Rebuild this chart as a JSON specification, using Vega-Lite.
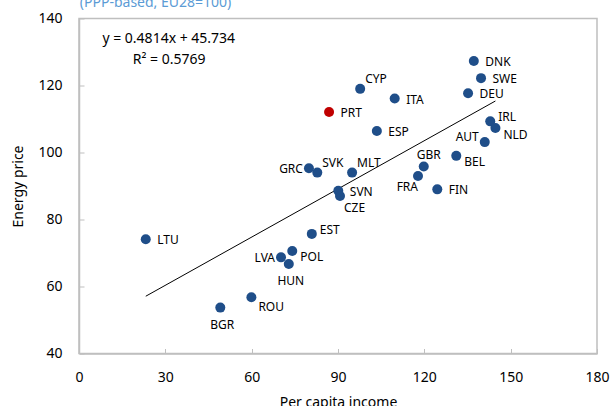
{
  "$schema": "https://vega.github.io/schema/vega-lite/v6.json",
  "autosize": {"type": "none"},
  "padding": {"left": 79, "top": 18.5, "right": 15.5, "bottom": 52.5},
  "width": 518,
  "height": 335,
  "background": "white",
  "config": {
    "font": "Noto Sans",
    "view": {"stroke": "#bfbfbf", "strokeWidth": 1.5},
    "axis": {
      "domainColor": "#bfbfbf", "domainWidth": 1.5,
      "tickColor": "#bfbfbf", "tickWidth": 1, "tickSize": -5,
      "grid": false, "labelFlush": false, "labelOverlap": false,
      "labelFont": "Noto Sans", "labelFontSize": 14, "labelColor": "#000000",
      "titleFont": "Noto Sans", "titleFontSize": 14, "titleFontWeight": "normal", "titleColor": "#000000"
    },
    "text": {"font": "Noto Sans", "fontSize": 12, "baseline": "middle", "color": "#000000"}
  },
  "data": {"values": [
    {"c": "DNK", "x": 137.2, "y": 127.3},
    {"c": "SWE", "x": 139.7, "y": 122.2},
    {"c": "DEU", "x": 135.2, "y": 117.7},
    {"c": "CYP", "x": 97.7, "y": 119.0},
    {"c": "ITA", "x": 109.7, "y": 116.1},
    {"c": "PRT", "x": 86.9, "y": 112.1},
    {"c": "ESP", "x": 103.5, "y": 106.4},
    {"c": "IRL", "x": 142.9, "y": 109.3},
    {"c": "NLD", "x": 144.7, "y": 107.3},
    {"c": "AUT", "x": 141.0, "y": 103.1},
    {"c": "BEL", "x": 131.1, "y": 99.0},
    {"c": "GBR", "x": 119.8, "y": 95.8},
    {"c": "FRA", "x": 117.8, "y": 93.0},
    {"c": "FIN", "x": 124.5, "y": 89.0},
    {"c": "GRC", "x": 79.9, "y": 95.3},
    {"c": "SVK", "x": 82.8, "y": 94.0},
    {"c": "MLT", "x": 94.9, "y": 94.0},
    {"c": "SVN", "x": 90.1, "y": 88.6},
    {"c": "CZE", "x": 90.7, "y": 87.0},
    {"c": "LTU", "x": 23.2, "y": 74.1},
    {"c": "EST", "x": 80.9, "y": 75.7},
    {"c": "POL", "x": 74.1, "y": 70.6},
    {"c": "LVA", "x": 70.2, "y": 68.7},
    {"c": "HUN", "x": 72.9, "y": 66.7},
    {"c": "ROU", "x": 59.9, "y": 56.8},
    {"c": "BGR", "x": 49.1, "y": 53.7}
  ]},
  "layer": [
    {
      "transform": [{"regression": "y", "on": "x"}],
      "mark": {"type": "line", "color": "#000000", "strokeWidth": 1},
      "encoding": {
        "x": {"field": "x", "type": "quantitative",
          "scale": {"domain": [0, 180], "nice": false, "zero": false},
          "axis": {"values": [0, 30, 60, 90, 120, 150, 180], "title": "Per capita income", "labelPadding": 22, "titlePadding": 11}},
        "y": {"field": "y", "type": "quantitative",
          "scale": {"domain": [40, 140], "nice": false, "zero": false},
          "axis": {"values": [40, 60, 80, 100, 120, 140], "title": "Energy price", "labelPadding": 22, "titlePadding": 12}}
      }
    },
    {
      "mark": {"type": "circle", "size": 100, "opacity": 1},
      "encoding": {
        "x": {"field": "x", "type": "quantitative"},
        "y": {"field": "y", "type": "quantitative"},
        "color": {"condition": {"test": "datum.c === 'PRT'", "value": "#c00000"}, "value": "#1f4e89"}
      }
    },
    {
      "transform": [{"filter": "indexof(['DNK','SWE','DEU','ITA','PRT','ESP','FIN','SVN','LTU'], datum.c) >= 0"}],
      "mark": {"type": "text", "align": "left", "dx": 11.5, "dy": 1},
      "encoding": {"x": {"field": "x", "type": "quantitative"}, "y": {"field": "y", "type": "quantitative"}, "text": {"field": "c"}}
    },
    {
      "transform": [{"filter": "indexof(['CYP','SVK','MLT'], datum.c) >= 0"}],
      "mark": {"type": "text", "align": "left", "dx": 5, "dy": -10},
      "encoding": {"x": {"field": "x", "type": "quantitative"}, "y": {"field": "y", "type": "quantitative"}, "text": {"field": "c"}}
    },
    {
      "transform": [{"filter": "indexof(['IRL','EST'], datum.c) >= 0"}],
      "mark": {"type": "text", "align": "left", "dx": 8, "dy": -4},
      "encoding": {"x": {"field": "x", "type": "quantitative"}, "y": {"field": "y", "type": "quantitative"}, "text": {"field": "c"}}
    },
    {
      "transform": [{"filter": "indexof(['NLD','BEL','POL'], datum.c) >= 0"}],
      "mark": {"type": "text", "align": "left", "dx": 8, "dy": 6.5},
      "encoding": {"x": {"field": "x", "type": "quantitative"}, "y": {"field": "y", "type": "quantitative"}, "text": {"field": "c"}}
    },
    {
      "transform": [{"filter": "datum.c === 'ROU'"}],
      "mark": {"type": "text", "align": "left", "dx": 7, "dy": 10},
      "encoding": {"x": {"field": "x", "type": "quantitative"}, "y": {"field": "y", "type": "quantitative"}, "text": {"field": "c"}}
    },
    {
      "transform": [{"filter": "indexof(['GRC','LVA'], datum.c) >= 0"}],
      "mark": {"type": "text", "align": "right", "dx": -6, "dy": 1},
      "encoding": {"x": {"field": "x", "type": "quantitative"}, "y": {"field": "y", "type": "quantitative"}, "text": {"field": "c"}}
    },
    {
      "transform": [{"filter": "datum.c === 'AUT'"}],
      "mark": {"type": "text", "align": "right", "dx": -6, "dy": -5},
      "encoding": {"x": {"field": "x", "type": "quantitative"}, "y": {"field": "y", "type": "quantitative"}, "text": {"field": "c"}}
    },
    {
      "transform": [{"filter": "indexof(['HUN','BGR'], datum.c) >= 0"}],
      "mark": {"type": "text", "align": "center", "dx": 2, "dy": 17},
      "encoding": {"x": {"field": "x", "type": "quantitative"}, "y": {"field": "y", "type": "quantitative"}, "text": {"field": "c"}}
    },
    {
      "transform": [{"filter": "datum.c === 'FRA'"}],
      "mark": {"type": "text", "align": "right", "dx": 0, "dy": 11},
      "encoding": {"x": {"field": "x", "type": "quantitative"}, "y": {"field": "y", "type": "quantitative"}, "text": {"field": "c"}}
    },
    {
      "transform": [{"filter": "datum.c === 'CZE'"}],
      "mark": {"type": "text", "align": "left", "dx": 4, "dy": 12},
      "encoding": {"x": {"field": "x", "type": "quantitative"}, "y": {"field": "y", "type": "quantitative"}, "text": {"field": "c"}}
    },
    {
      "transform": [{"filter": "datum.c === 'GBR'"}],
      "mark": {"type": "text", "align": "center", "dx": 5, "dy": -12},
      "encoding": {"x": {"field": "x", "type": "quantitative"}, "y": {"field": "y", "type": "quantitative"}, "text": {"field": "c"}}
    },
    {
      "transform": [{"filter": "datum.c === 'LTU'"}],
      "mark": {"type": "text", "align": "center", "fontSize": 14},
      "encoding": {"x": {"datum": 31.2}, "y": {"datum": 133.9}, "text": {"value": "y = 0.4814x + 45.734"}}
    },
    {
      "transform": [{"filter": "datum.c === 'LTU'"}],
      "mark": {"type": "text", "align": "center", "fontSize": 14},
      "encoding": {"x": {"datum": 31.3}, "y": {"datum": 127.6}, "text": {"value": "R² = 0.5769"}}
    },
    {
      "transform": [{"filter": "datum.c === 'LTU'"}],
      "mark": {"type": "text", "align": "center", "baseline": "alphabetic", "fontSize": 14, "color": "#5b9bd5"},
      "encoding": {"x": {"datum": 26.6}, "y": {"datum": 143.4}, "text": {"value": "(PPP-based, EU28=100)"}}
    }
  ]
}
